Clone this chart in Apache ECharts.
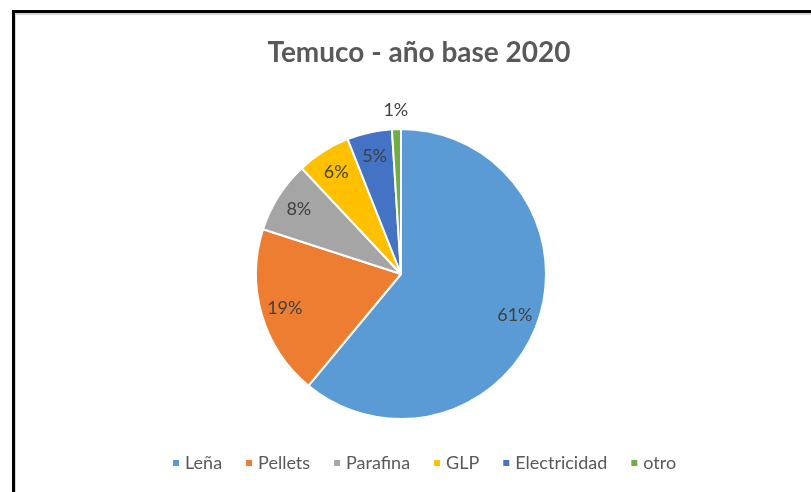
<!DOCTYPE html>
<html><head><meta charset="utf-8">
<script src="https://cdn.jsdelivr.net/npm/echarts@6/dist/echarts.min.js"></script>
<style>
html,body{margin:0;padding:0;background:#fff;overflow:hidden;}
#chart{position:absolute;left:0;top:0;width:811px;height:492px;}
#frame{position:absolute;left:12px;top:10px;width:900px;height:600px;border-left:3px solid #000;border-top:3px solid #000;box-shadow:inset 1px 2px 0 #d4d4d4;pointer-events:none;}
</style></head>
<body>
<div id="chart"></div>
<div id="frame"></div>
<script>
const titleText = 'Temuco - año base 2020';
const categories = ['Leña', 'Pellets', 'Parafina', 'GLP', 'Electricidad', 'otro'];
const values = [61, 19, 8, 6, 5, 1];
const colors = ['#5B9BD5', '#ED7D31', '#A5A5A5', '#FFC000', '#4472C4', '#70AD47'];
const smallLabelCats = ['otro'];

const FONT = 'Lato, "Open Sans", sans-serif';
const center = [401, 274];
const data = categories.map((c, i) => ({ name: c, value: values[i], itemStyle: { color: colors[i] } }));
const fmt = p => Math.round(p.percent) + '%';

const chart = echarts.init(document.getElementById('chart'), null, { renderer: 'canvas' });
chart.setOption({
  animation: false,
  backgroundColor: '#fff',
  title: {
    text: titleText, left: 414, top: 34, textAlign: 'center',
    textStyle: { fontFamily: FONT, fontWeight: 'bold', fontSize: 28, color: '#595959' }
  },
  legend: {
    left: 166, top: 449, data: categories, icon: 'rect',
    itemWidth: 8, itemHeight: 8, itemGap: 22,
    textStyle: { fontFamily: FONT, fontSize: 18, color: '#595959' }
  },
  series: [
    {
      type: 'pie', center: center, radius: 145, startAngle: 90, clockwise: true,
      data: data, label: { show: false }, labelLine: { show: false },
      itemStyle: { borderColor: '#fff', borderWidth: 2 }, silent: true
    },
    {
      type: 'pie', center: center, radius: 236, startAngle: 90, clockwise: true, silent: true,
      avoidLabelOverlap: false,
      data: categories.map((c, i) => ({
        name: c, value: values[i],
        label: { show: smallLabelCats.indexOf(c) < 0 }
      })),
      itemStyle: { color: 'rgba(0,0,0,0)', borderWidth: 0 },
      label: { position: 'inside', formatter: fmt, fontFamily: FONT, fontSize: 18, color: '#404040' },
      labelLine: { show: false }
    },
    {
      type: 'pie', center: center, radius: 322, startAngle: 90, clockwise: true, silent: true,
      avoidLabelOverlap: false,
      data: categories.map((c, i) => ({
        name: c, value: values[i],
        label: { show: smallLabelCats.indexOf(c) >= 0 }
      })),
      itemStyle: { color: 'rgba(0,0,0,0)', borderWidth: 0 },
      label: { position: 'inside', formatter: fmt, fontFamily: FONT, fontSize: 18, color: '#404040' },
      labelLine: { show: false }
    }
  ]
});
</script>
</body></html>
